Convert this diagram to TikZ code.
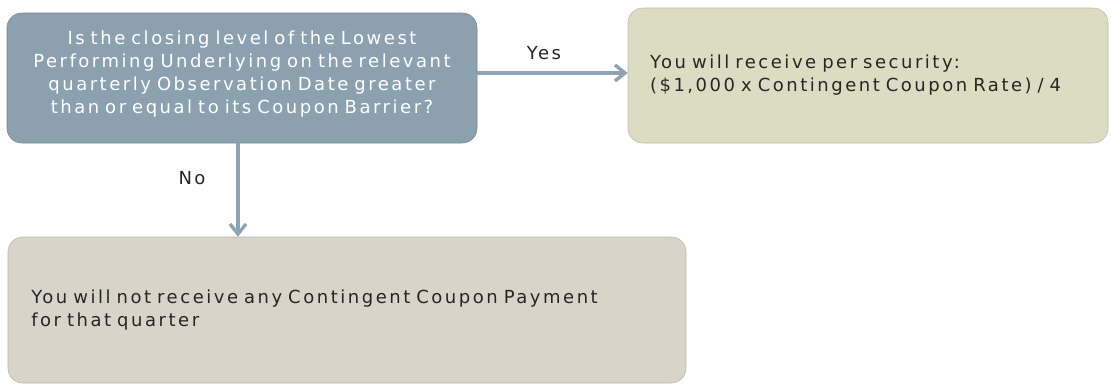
\documentclass[tikz,border=0pt]{standalone}
\usepackage{fontspec}
\setmainfont{DejaVu Sans}[LetterSpace=14, WordSpace=1.6]
\usetikzlibrary{arrows.meta,calc}

\definecolor{qblue}{HTML}{8BA1B0}
\definecolor{paygreen}{HTML}{DCDCC2}
\definecolor{nopaygrey}{HTML}{D8D4C8}
\definecolor{arrowblue}{HTML}{8EA4B4}

\tikzset{every picture/.style={line width=0.75pt}}
\tikzset{
  box/.style={rounded corners=11pt, inner ysep=0pt, font=\fontsize{13.5}{17.25}\selectfont},
  question/.style={box, fill=qblue, draw=qblue!85!black, line width=0.4pt, text=white, align=center,
    minimum width=352.5pt, minimum height=97.5pt, inner xsep=2pt, text width=348.5pt, text depth=61pt},
  answer/.style={box, draw=#1!85!black, line width=0.4pt, fill=#1, text=black!85, align=left},
  flow/.style={draw=arrowblue, line width=3pt, -{Straight Barb[length=7.5pt, width=12pt, line width=2.6pt]}},
  tag/.style={font=\fontsize{13.5}{17.25}\selectfont, text=black!85}
}

\begin{document}
\begin{tikzpicture}[x=0.75pt,y=0.75pt,yscale=-1,xscale=1]
%set diagram size
\useasboundingbox (0,0) rectangle (1111,389);

% Question
\node[question] (qbox) at (242,78) {Is the closing level of the Lowest\\Performing Underlying on the relevant\\quarterly Observation Date greater\\than or equal to its Coupon Barrier?};
% Yes box
\node[answer=paygreen, minimum height=101.25pt, inner xsep=16.5pt, text width=327pt] (pay) at (868,75.5) {You will receive per security:\\(\$1,000 x Contingent Coupon Rate) / 4};
% No box
\node[answer=nopaygrey, minimum height=109.5pt, inner xsep=17.5pt, text width=473.5pt] (nopay) at (347,310) {You will not receive any Contingent Coupon Payment\\for that quarter};

% connectors
\coordinate (yesfrom) at ($(qbox.east)+(0,-5)$);
\coordinate (nofrom) at ($(qbox.south)+(-4,0)$);
\draw[flow] (yesfrom) -- (yesfrom -| pay.west);
\draw[flow] (nofrom) -- (nofrom |- nopay.north);

% Text Node
\node[tag] (yes) at (544,53) {Yes};
% Text Node
\node[tag] (no) at (192,178) {No};

\end{tikzpicture}
\end{document}
